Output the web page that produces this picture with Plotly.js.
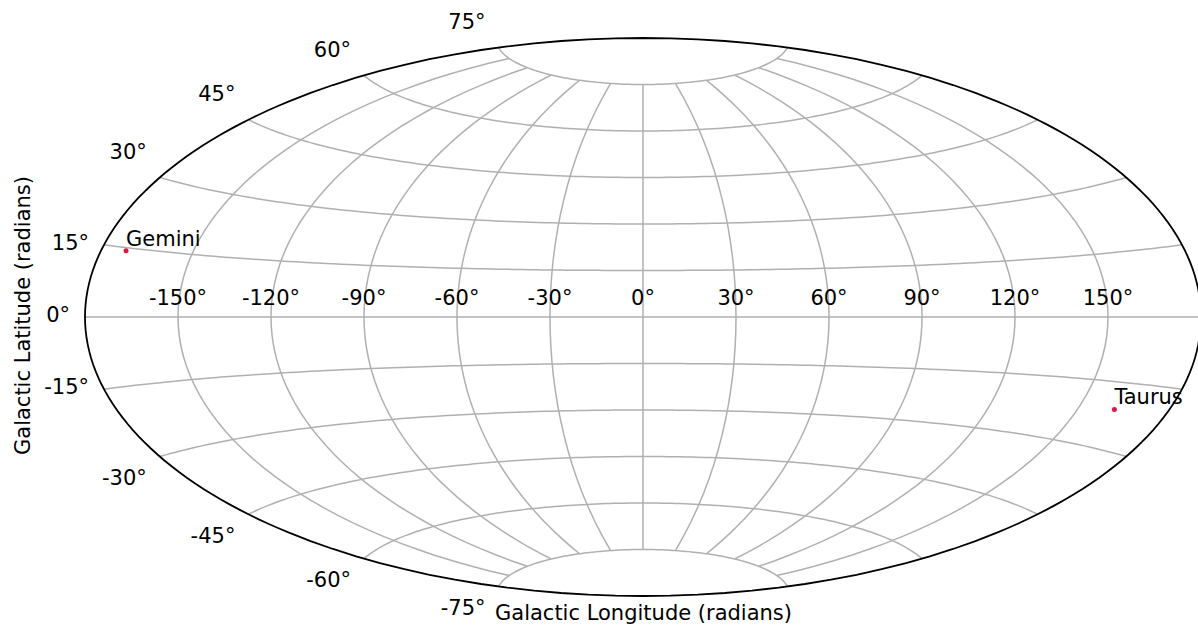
<!DOCTYPE html>
<html>
<head>
<meta charset="utf-8">
<script src="https://cdn.plot.ly/plotly-3.0.1.min.js"></script>
<style>
html, body { margin: 0; padding: 0; overflow: hidden; background: #fff; }
#chart { width: 1300px; height: 631px; }
</style>
</head>
<body>
<div id="chart"></div>
<script>
// ---- data ----
const constellations = ['Gemini', 'Taurus'];
const galLonRad = [-3.0, 2.83];    // galactic longitude (radians)
const galLatRad = [0.25, -0.37];   // galactic latitude (radians)

// ---- graticule / tick labels ----
const lonTicks = [-150, -120, -90, -60, -30, 0, 30, 60, 90, 120, 150];
const latTicks = [-75, -60, -45, -30, -15, 0, 15, 30, 45, 60, 75];
const meridianEnd = 75; // meridians stop at ±75°

const toDeg = r => r * 180 / Math.PI;
const degLabel = v => v + '°';

const FONT = 'DejaVu Sans, sans-serif';
const FS = 21;
const GRID = '#b0b0b0';

// meridians (great circles) drawn from -75 to 75
const merLon = [], merLat = [];
lonTicks.forEach(l => {
  merLon.push(l, l, l, null);
  merLat.push(-meridianEnd, 0, meridianEnd, null);
});

const latLow = latTicks.filter(v => Math.abs(v) < 30);
const latHigh = latTicks.filter(v => Math.abs(v) >= 30);

const textFont = { family: FONT, size: FS, color: '#000' };

const traces = [
  {
    type: 'scattergeo', mode: 'lines',
    lon: merLon, lat: merLat,
    line: { color: GRID, width: 1.5 },
    hoverinfo: 'skip', showlegend: false
  },
  // longitude tick labels along the equator
  {
    type: 'scattergeo', mode: 'markers+text',
    lon: lonTicks, lat: lonTicks.map(() => 0),
    text: lonTicks.map(degLabel), textposition: 'top center',
    marker: { size: 9.2, color: 'rgba(0,0,0,0)' },
    textfont: textFont, hoverinfo: 'skip', showlegend: false
  },
  // latitude tick labels near the equator
  {
    type: 'scattergeo', mode: 'markers+text',
    lon: latLow.map(() => -180), lat: latLow,
    text: latLow.map(degLabel), textposition: 'middle left',
    marker: { size: 22.4, color: 'rgba(0,0,0,0)' },
    textfont: textFont, hoverinfo: 'skip', showlegend: false
  },
  // latitude tick labels at higher latitudes
  {
    type: 'scattergeo', mode: 'markers+text',
    lon: latHigh.map(() => -180), lat: latHigh,
    text: latHigh.map(degLabel),
    textposition: latHigh.map(v => v > 0 ? 'top left' : 'bottom left'),
    marker: { size: 19.2, color: 'rgba(0,0,0,0)' },
    textfont: textFont, hoverinfo: 'skip', showlegend: false
  },
  // constellation points
  {
    type: 'scattergeo', mode: 'markers',
    lon: galLonRad.map(toDeg), lat: galLatRad.map(toDeg),
    marker: { size: 5, color: '#e0163c' },
    hoverinfo: 'skip', showlegend: false
  },
  // constellation names
  {
    type: 'scattergeo', mode: 'text',
    lon: galLonRad.map(toDeg), lat: galLatRad.map(toDeg),
    text: constellations, textposition: 'top right',
    textfont: textFont, hoverinfo: 'skip', showlegend: false
  }
];

const W = 1300, H = 631;
const layout = {
  width: W, height: H,
  margin: { l: 0, r: 0, t: 0, b: 0 },
  paper_bgcolor: '#fff',
  showlegend: false,
  font: textFont,
  geo: {
    domain: { x: [0, 1286 / W], y: [0, 628 / H] },
    projection: { type: 'aitoff', scale: 1116 / 1256 },
    showframe: true, framecolor: '#000', framewidth: 1.8,
    showland: false, showcoastlines: false, showcountries: false,
    showocean: false, showlakes: false, showrivers: false, showsubunits: false,
    bgcolor: 'rgba(0,0,0,0)',
    lataxis: { range: [-90, 90], showgrid: true, dtick: 15, gridcolor: GRID, gridwidth: 1.5 },
    lonaxis: { range: [-180, 180], showgrid: false }
  },
  annotations: [
    {
      text: 'Galactic Longitude (radians)', xref: 'paper', yref: 'paper',
      x: 643 / W, y: (H - 613) / H, xanchor: 'center', yanchor: 'middle',
      showarrow: false, font: textFont
    },
    {
      text: 'Galactic Latitude (radians)', xref: 'paper', yref: 'paper',
      x: 23 / W, y: (H - 316) / H, xanchor: 'center', yanchor: 'middle',
      textangle: -90, showarrow: false, font: textFont
    }
  ]
};

Plotly.newPlot('chart', traces, layout, { displayModeBar: false, staticPlot: true });
</script>
</body>
</html>
